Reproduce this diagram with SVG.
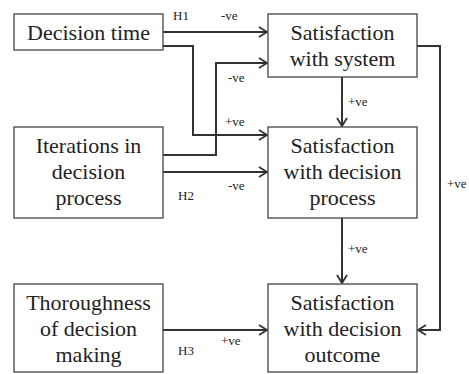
<svg xmlns="http://www.w3.org/2000/svg" width="469" height="374" viewBox="0 0 469 374" font-family="Liberation Serif, DejaVu Serif, Noto Serif, serif">
<style>
.box{fill:#fff;stroke:#444;stroke-width:1.3}
.t{font-size:22px;fill:#222;text-anchor:middle}
.l{font-size:13px;fill:#222}
.c{fill:none;stroke:#333;stroke-width:2}
</style>
<defs>
<marker id="arr" markerUnits="userSpaceOnUse" markerWidth="12" markerHeight="14" refX="9" refY="6" orient="auto">
<path d="M1,1 L9,6 L1,11" fill="none" stroke="#333" stroke-width="1.8"/>
</marker>
</defs>
<rect width="469" height="374" fill="#fff"/>
<g id="connectors">
<path class="c" d="M163,32 H267" marker-end="url(#arr)"/>
<path class="c" d="M163,46 H193 V135 H267" marker-end="url(#arr)"/>
<path class="c" d="M163,155 H216 V63 H267" marker-end="url(#arr)"/>
<path class="c" d="M163,172 H267" marker-end="url(#arr)"/>
<path class="c" d="M163,330 H267" marker-end="url(#arr)"/>
<path class="c" d="M342,77 V126" marker-end="url(#arr)"/>
<path class="c" d="M342,218 V283" marker-end="url(#arr)"/>
<path class="c" d="M417,46 H440 V330 H418" marker-end="url(#arr)"/>
</g>
<g id="labels">
<text class="l" x="173" y="20" font-family="Liberation Serif">H1</text>
<text class="l" x="221" y="20" font-family="Liberation Serif">-ve</text>
<text class="l" x="228" y="82" font-family="Liberation Serif">-ve</text>
<text class="l" x="225" y="126" font-family="Liberation Serif">+ve</text>
<text class="l" x="228" y="190" font-family="Liberation Serif">-ve</text>
<text class="l" x="178" y="200" font-family="Liberation Serif">H2</text>
<text class="l" x="221" y="345" font-family="Liberation Serif">+ve</text>
<text class="l" x="178" y="355" font-family="Liberation Serif">H3</text>
<text class="l" x="348" y="106" font-family="Liberation Serif">+ve</text>
<text class="l" x="348" y="253" font-family="Liberation Serif">+ve</text>
<text class="l" x="447" y="188" font-family="Liberation Serif">+ve</text>
</g>
<g id="decision-time" font-family="Liberation Serif">
<rect class="box" x="14" y="14" width="149" height="36"/>
<text class="t" x="88.5" y="40">Decision time</text>
</g>
<g id="iterations" font-family="Liberation Serif">
<rect class="box" x="14" y="127" width="149" height="91"/>
<text class="t" x="88.5" y="153">Iterations in</text>
<text class="t" x="88.5" y="179">decision</text>
<text class="t" x="88.5" y="205">process</text>
</g>
<g id="thoroughness" font-family="Liberation Serif">
<rect class="box" x="14" y="284" width="149" height="88"/>
<text class="t" x="88.5" y="310">Thoroughness</text>
<text class="t" x="88.5" y="336">of decision</text>
<text class="t" x="88.5" y="362">making</text>
</g>
<g id="sat-system" font-family="Liberation Serif">
<rect class="box" x="268" y="14" width="149" height="63"/>
<text class="t" x="342.5" y="40">Satisfaction</text>
<text class="t" x="342.5" y="66">with system</text>
</g>
<g id="sat-process" font-family="Liberation Serif">
<rect class="box" x="268" y="127" width="149" height="91"/>
<text class="t" x="342.5" y="153">Satisfaction</text>
<text class="t" x="342.5" y="179">with decision</text>
<text class="t" x="342.5" y="205">process</text>
</g>
<g id="sat-outcome" font-family="Liberation Serif">
<rect class="box" x="268" y="284" width="149" height="88"/>
<text class="t" x="342.5" y="310">Satisfaction</text>
<text class="t" x="342.5" y="336">with decision</text>
<text class="t" x="342.5" y="362">outcome</text>
</g>
</svg>
